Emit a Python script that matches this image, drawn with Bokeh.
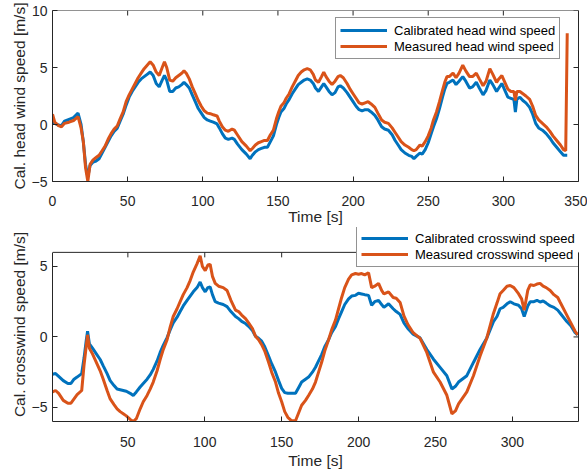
import math
from bokeh.plotting import figure
from bokeh.models import Range1d, FixedTicker, LinearAxis, Span
from bokeh.layouts import column
from bokeh.embed import file_html
from bokeh.resources import INLINE

# ---------------- data: head wind (top) ----------------
t_head = [0, 1.5, 4, 6, 8, 11, 14, 17, 19, 20.5, 22, 23.5, 25, 27, 29, 31, 33, 35, 37, 39,
          41, 43, 45, 47, 49, 51, 53, 55, 57, 59, 61, 63, 65, 67, 69, 71, 73, 74.5, 76, 78,
          80, 82, 84, 86, 87.5, 89, 91, 93, 95, 97, 99, 101, 103, 105, 107, 109.5, 111, 113, 115, 117,
          119.5, 121, 123, 126, 129, 131.5, 133, 135, 137, 139, 141, 143, 145, 147, 149, 150.5, 152, 154, 155.5, 157.5,
          159.5, 161.5, 163.5, 165.5, 167.5, 169.5, 171.5, 173.5, 175, 177, 179, 180.5, 182, 184, 186, 188, 190, 191.5, 193.5, 196,
          198, 200, 202, 204, 206, 208, 210, 212, 214.5, 216.5, 219, 221, 223.5, 226, 228, 230, 232, 234.5, 237, 239,
          240.5, 242, 244.5, 246, 248, 250, 252, 253.5, 255.5, 257.5, 259.5, 261, 262.5, 264, 266.5, 268.5, 270.5, 273, 275, 277.5,
          279.5, 282, 284, 286.5, 288.5, 291, 293, 295.5, 297, 299, 301, 303, 305, 307, 308, 309, 311, 313, 315, 317.5,
          319.5, 321.5, 323.5, 326, 328.5, 331, 333, 335.5, 338, 340, 341.5, 342.5]
head_cal = [0.3, 0.1, -0.05, -0.1, 0.3, 0.45, 0.6, 1.0, 0.0, -1.5, -3.5, -4.6, -3.6, -3.3, -3.2, -3.0, -2.5, -2.0, -1.5, -1.0,
            -0.6, -0.35, 0.3, 0.9, 1.7, 2.4, 2.9, 3.3, 3.7, 4.0, 4.2, 4.4, 4.6, 4.3, 3.6, 3.3, 3.9, 4.3, 3.9, 2.9,
            2.9, 3.2, 3.3, 3.5, 3.7, 3.5, 3.2, 2.6, 2.0, 1.4, 1.0, 0.6, 0.4, 0.3, 0.2, 0.05, -0.3, -0.8, -1.2, -1.3,
            -1.2, -1.3, -1.7, -2.2, -2.6, -3.0, -2.7, -2.4, -2.2, -2.1, -2.0, -2.0, -1.5, -1.0, 0.0, 0.6, 1.1, 1.4, 1.8, 2.2,
            2.7, 3.1, 3.5, 3.7, 3.9, 4.0, 3.9, 3.6, 3.2, 2.9, 3.3, 3.6, 3.3, 2.9, 2.6, 2.8, 3.3, 3.4, 3.2, 2.8,
            2.4, 2.0, 1.6, 1.3, 1.2, 1.3, 1.3, 1.1, 0.8, 0.4, -0.2, -0.4, -0.5, -0.9, -1.4, -1.8, -2.2, -2.5, -2.7, -2.8,
            -3.0, -2.8, -2.5, -2.6, -2.2, -1.6, -0.8, -0.2, 0.5, 1.4, 2.4, 3.1, 3.6, 3.7, 3.9, 3.5, 3.8, 4.2, 3.8, 3.2,
            3.3, 3.7, 3.2, 2.6, 3.0, 3.9, 3.5, 2.9, 3.2, 3.6, 3.0, 2.4, 2.3, 2.2, 1.1, 2.2, 2.4, 2.1, 1.9, 1.5,
            0.9, 0.1, -0.3, -0.5, -0.8, -1.2, -1.6, -2.0, -2.4, -2.7, -2.7, -2.7]
head_meas = [0.9, 0.2, -0.1, -0.2, 0.1, 0.2, 0.35, 0.7, -0.3, -1.5, -3.8, -5.0, -3.5, -3.1, -2.9, -2.7, -2.3, -1.9, -1.3, -0.8,
             -0.4, -0.15, 0.5, 1.1, 2.0, 2.6, 3.1, 3.6, 4.1, 4.5, 4.9, 5.2, 5.5, 5.2, 4.6, 4.3, 5.0, 5.5, 5.0, 3.9,
             3.8, 4.1, 4.3, 4.5, 4.7, 4.5, 4.0, 3.3, 2.7, 2.1, 1.6, 1.2, 1.0, 0.95, 0.85, 0.75, 0.3, -0.2, -0.5, -0.6,
             -0.4, -0.5, -0.9, -1.5, -1.9, -2.3, -2.1, -1.8, -1.6, -1.5, -1.4, -1.4, -0.9, -0.5, 0.5, 1.1, 1.6, 1.9, 2.3, 2.7,
             3.3, 3.8, 4.3, 4.6, 4.8, 4.9, 4.8, 4.4, 3.9, 3.7, 4.2, 4.6, 4.2, 3.8, 3.5, 3.8, 4.2, 4.3, 4.1, 3.6,
             3.1, 2.7, 2.3, 1.9, 1.8, 1.9, 2.0, 1.8, 1.5, 1.0, 0.4, 0.2, 0.1, -0.3, -0.7, -1.1, -1.5, -1.8, -2.0, -2.2,
             -2.3, -2.2, -1.8, -1.9, -1.5, -1.0, -0.3, 0.4, 1.1, 2.0, 3.0, 3.7, 4.2, 4.2, 4.5, 4.1, 4.5, 5.2, 4.7, 4.2,
             4.2, 4.5, 4.0, 3.4, 3.8, 4.9, 4.4, 3.7, 4.0, 4.3, 3.7, 3.1, 2.9, 2.9, 2.1, 2.9, 2.9, 2.7, 2.5, 2.2,
             1.6, 0.8, 0.4, 0.1, -0.2, -0.6, -1.0, -1.4, -1.8, -2.2, -2.3, 8.0]

# ---------------- data: crosswind (bottom) ----------------
t_cross = [1, 3, 5, 8, 11, 13, 15, 17, 20, 21.5, 23, 23.8, 25, 27, 29.5, 32, 34, 36.5, 38.5, 41,
           43, 45, 47, 49, 51.5, 53.5, 55.5, 58, 60, 62.5, 64.5, 66.5, 69, 71, 73, 75.5, 77.5, 79.5, 82, 84,
           86, 88.5, 90.5, 92.5, 95, 97, 98.5, 100.3, 102, 103.5, 105, 106.8, 109, 112, 114.5, 117, 120, 122, 124, 126.5,
           128.5, 131, 133, 135, 137, 139, 141.5, 143.5, 146, 148, 150, 152, 154, 156.5, 159, 161, 163, 165.5, 167.5, 170,
           172, 174, 176, 178, 180.5, 182.5, 185, 187, 189, 191, 193.5, 195.5, 198, 200, 202, 204, 206.5, 208.5, 210.5, 213,
           215, 216.5, 219.5, 222.5, 224.5, 227, 229.5, 232, 235.5, 240, 244.4, 248.7, 253, 257.4, 260.7, 263, 265, 270.4, 274.7, 279,
           283.4, 287.7, 290, 292, 294, 296.5, 298.6, 301, 304, 306, 307.7, 310, 311.6, 314, 316, 318, 320, 322, 324.6, 327,
           329.5, 331, 335.4, 338, 340.8, 342.5]
cross_cal = [-2.65, -2.6, -2.8, -3.1, -3.3, -3.3, -3.0, -2.85, -2.6, -1.5, -0.2, 0.4, -0.5, -0.8, -1.2, -1.6, -2.05, -2.6, -3.1, -3.45,
             -3.7, -3.75, -3.8, -3.85, -4.0, -4.15, -3.9, -3.55, -3.3, -3.0, -2.7, -2.3, -1.7, -1.1, -0.6, -0.05, 0.5, 1.0, 1.4, 1.8,
             2.2, 2.6, 2.9, 3.2, 3.5, 3.9, 3.5, 3.2, 3.5, 3.55, 3.0, 2.5, 2.4, 2.3, 2.15, 1.8, 1.45, 1.3, 1.1, 0.95,
             0.75, 0.45, 0.05, -0.1, -0.3, -0.7, -1.35, -1.9, -2.5, -3.1, -3.65, -3.95, -4.0, -4.0, -4.0, -3.6, -3.2, -3.0, -2.85, -2.5,
             -2.15, -1.7, -1.25, -0.7, -0.2, 0.3, 0.75, 1.3, 1.8, 2.3, 2.7, 2.9, 2.95, 3.1, 3.05, 3.0, 2.95, 2.25, 2.5, 2.6,
             2.3, 2.1, 2.35, 2.0, 1.8, 1.6, 1.0, 0.6, 0.2, -0.07, -0.89, -1.58, -2.16, -2.75, -3.7, -3.5, -3.2, -2.75, -1.81, -0.89,
             -0.07, 1.09, 1.45, 2.0, 2.1, 2.35, 2.5, 2.35, 2.25, 2.0, 1.44, 2.2, 2.5, 2.5, 2.6, 2.48, 2.55, 2.4, 2.2, 2.1,
             1.9, 1.7, 1.09, 0.8, 0.3, 0.15]
cross_meas = [-3.9, -3.8, -4.0, -4.5, -4.7, -4.7, -4.4, -4.1, -3.8, -2.0, -0.6, 0.15, -0.8, -1.2, -1.8, -2.4, -3.0, -3.8, -4.4, -4.8,
              -5.1, -5.3, -5.45, -5.6, -5.85, -6.0, -5.8, -5.1, -4.6, -4.15, -3.7, -3.2, -2.4, -1.6, -0.9, -0.2, 0.7, 1.45, 2.0, 2.5,
              3.0, 3.5, 4.0, 4.6, 5.2, 5.75, 5.0, 4.7, 5.1, 5.15, 4.3, 3.8, 3.6, 3.5, 3.3, 2.6, 1.9, 1.8, 1.55, 1.3,
              1.0, 0.6, 0.05, -0.2, -0.55, -1.0, -1.8, -2.5, -3.2, -4.0, -4.6, -5.3, -5.7, -5.95, -5.95, -5.4, -4.85, -4.5, -4.15, -3.7,
              -3.2, -2.5, -1.8, -1.0, -0.2, 0.5, 1.2, 2.0, 2.8, 3.5, 4.1, 4.4, 4.5, 4.45, 4.5, 4.4, 4.55, 3.5, 3.6, 3.8,
              3.3, 3.05, 3.2, 2.8, 2.75, 2.45, 1.5, 0.9, 0.3, -0.1, -1.12, -2.5, -3.2, -4.14, -5.45, -5.25, -4.75, -3.9, -2.75, -1.35,
              -0.07, 1.67, 2.4, 3.07, 3.3, 3.6, 3.65, 3.5, 3.07, 2.7, 1.9, 3.3, 3.7, 3.65, 3.75, 3.8, 3.6, 3.5, 3.3, 3.0,
              2.8, 2.48, 1.55, 1.0, 0.4, 0.15]

head_ticks_x = [0, 50, 100, 150, 200, 250, 300, 350]
head_ticks_y = [-5, 0, 5, 10]
cross_ticks_x = [50, 100, 150, 200, 250, 300]
cross_ticks_y = [-5, 0, 5]

BLUE = "#0072BD"
ORANGE = "#D95319"
AX = "#262626"
FONT = "Liberation Sans"


def style(p, xt, yt, xlabel, ylabel, xstand, xlstand, box):
    x0, x1, y0, y1 = box
    p.grid.visible = False
    p.background_fill_color = "white"
    p.border_fill_color = "white"
    p.xaxis.ticker = FixedTicker(ticks=xt)
    p.yaxis.ticker = FixedTicker(ticks=yt)
    p.yaxis.bounds = (y0, y1)
    p.xaxis.axis_label = xlabel
    p.yaxis.axis_label = ylabel
    for ax in (p.xaxis[0], p.yaxis[0]):
        ax.axis_line_color = AX
        ax.major_tick_line_color = AX
        ax.major_tick_in = 5
        ax.major_tick_out = 0
        ax.minor_tick_line_color = None
        ax.major_label_text_color = AX
        ax.major_label_text_font = FONT
        ax.major_label_text_font_size = "14px"
        ax.axis_label_text_font = FONT
        ax.axis_label_text_font_size = "15.5px"
        ax.axis_label_text_font_style = "normal"
        ax.axis_label_text_color = AX
    p.xaxis.major_label_standoff = xstand
    p.xaxis.axis_label_standoff = xlstand
    p.yaxis.major_label_standoff = 5
    p.yaxis.axis_label_standoff = 1
    # right edge of the box
    p.add_layout(LinearAxis(ticker=FixedTicker(ticks=[]), bounds=(y0, y1), axis_line_color=AX,
                            major_tick_line_color=None, minor_tick_line_color=None), "right")
    # top edge of the box
    p.add_layout(Span(location=y1, dimension="width", line_color=AX, line_width=1))
    # mirror ticks on top and right edges, pointing inward
    p.ray(xt, [y1] * len(xt), length=5, length_units="screen", angle=-math.pi / 2,
          line_color=AX, line_width=1)
    p.ray([x1] * len(yt), yt, length=5, length_units="screen", angle=math.pi,
          line_color=AX, line_width=1)


def style_legend(p, loc):
    lg = p.legend[0]
    lg.location = loc
    lg.glyph_width = 47
    lg.glyph_height = 16
    lg.label_height = 16
    lg.padding = 4
    lg.spacing = 0
    lg.margin = 0
    lg.label_standoff = 7
    lg.label_text_font = FONT
    lg.label_text_font_size = "13px"
    lg.label_text_color = "black"
    lg.border_line_color = AX
    lg.border_line_width = 1
    lg.background_fill_color = "white"
    lg.background_fill_alpha = 1.0


# ---------------- top figure ----------------
p1 = figure(width=587, height=227, x_range=Range1d(0, 350), y_range=Range1d(-5, 10),
            output_backend="svg", toolbar_location=None,
            min_border_left=52, min_border_right=9, min_border_top=10, min_border_bottom=45)
p1.outline_line_color = None
style(p1, head_ticks_x, head_ticks_y, "Time [s]", "Cal. head wind speed [m/s]", 14, -1, (0, 350, -5, 10))
p1.line(t_head, head_cal, line_color=BLUE, line_width=3, legend_label="Calibrated head wind speed")
p1.line(t_head, head_meas, line_color=ORANGE, line_width=3, legend_label="Measured head wind speed")
style_legend(p1, (283, 122))

# ---------------- bottom figure ----------------
# The frame reaches 25 px above the axes box (box spans 170 px for y in [-6, 6]) so the legend can overlap it.
box_px = 170.0
extra_px = 25.0
y_top = 6 + extra_px * 12 / box_px
p2 = figure(width=587, height=244, x_range=Range1d(1, 343), y_range=Range1d(-6, y_top),
            output_backend="svg", toolbar_location=None,
            min_border_left=52, min_border_right=9, min_border_top=0, min_border_bottom=49)
p2.outline_line_color = None
style(p2, cross_ticks_x, cross_ticks_y, "Time [s]", "Cal. crosswind speed [m/s]", 15, 2, (1, 343, -6, 6))
p2.line(t_cross, cross_cal, line_color=BLUE, line_width=3, legend_label="Calibrated crosswind speed")
p2.line(t_cross, cross_meas, line_color=ORANGE, line_width=3, legend_label="Measured crosswind speed")
style_legend(p2, (304, 154))

layout = column(p1, p2)
open("out.html", "w").write(file_html(layout, INLINE))
